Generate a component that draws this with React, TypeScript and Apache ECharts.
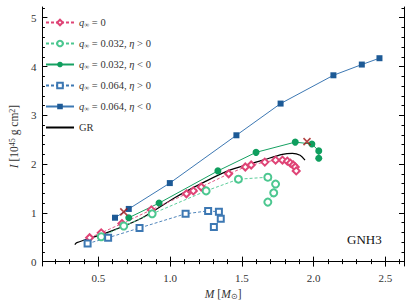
import React, { useEffect, useRef } from "react";
import * as echarts from "echarts";

// q_inf = 0
const q0M = [0.439, 0.52, 0.664, 0.869, 1.114, 1.162, 1.217, 1.408, 1.524, 1.565, 1.66, 1.735, 1.783, 1.817, 1.838, 1.858, 1.872, 1.879];
const q0I = [0.49, 0.59, 0.78, 1.06, 1.39, 1.45, 1.53, 1.8, 1.94, 1.98, 2.04, 2.08, 2.08, 2.06, 2.02, 1.98, 1.94, 1.86];
// q_inf = 0.032, eta > 0
const q32pM = [0.52, 0.677, 0.875, 1.251, 1.476, 1.681, 1.735, 1.722, 1.681];
const q32pI = [0.51, 0.73, 0.98, 1.45, 1.69, 1.73, 1.59, 1.41, 1.22];
// q_inf = 0.032, eta < 0
const q32nM = [0.712, 0.923, 1.333, 1.599, 1.872, 1.988, 2.036, 2.036];
const q32nI = [0.9, 1.2, 1.86, 2.24, 2.45, 2.41, 2.27, 2.12];
// q_inf = 0.064, eta > 0
const q64pM = [0.425, 0.568, 0.787, 1.108, 1.265, 1.34, 1.353, 1.305];
const q64pI = [0.37, 0.49, 0.69, 0.98, 1.04, 1.02, 0.88, 0.71];
// q_inf = 0.064, eta < 0
const q64nM = [0.616, 0.712, 0.998, 1.462, 1.77, 2.138, 2.336, 2.459];
const q64nI = [0.9, 1.08, 1.61, 2.59, 3.24, 3.82, 4.04, 4.17];
// GR
const grM = [0.336, 0.35, 0.575, 0.807, 1.032, 1.237, 1.42, 1.647, 1.783, 1.852, 1.906, 1.94];
const grI = [0.35, 0.39, 0.61, 0.9, 1.31, 1.63, 1.88, 2.08, 2.2, 2.22, 2.18, 2.08];
// maximum-mass markers
const crossM = [0.677, 1.954];
const crossI = [1.02, 2.46];

const xMajor = [0.5, 1.0, 1.5, 2.0, 2.5];
const xMinor = [0.2, 0.3, 0.4, 0.6, 0.7, 0.8, 0.9, 1.1, 1.2, 1.3, 1.4, 1.6, 1.7, 1.8, 1.9, 2.1, 2.2, 2.3, 2.4, 2.6];
const yMajor = [0, 1, 2, 3, 4, 5];
const yMinor = [0.2, 0.4, 0.6, 0.8, 1.2, 1.4, 1.6, 1.8, 2.2, 2.4, 2.6, 2.8, 3.2, 3.4, 3.6, 3.8, 4.2, 4.4, 4.6, 4.8, 5.2];

const names = ["q0", "q32p", "q32n", "q64p", "q64n", "GR"];
const legendLabels: Record<string, string> = {
  q0: "{q|q}{s|∞}{t| = 0}",
  q32p: "{q|q}{s|∞}{t| = 0.032, }{q|η}{t| > 0}",
  q32n: "{q|q}{s|∞}{t| = 0.032, }{q|η}{t| < 0}",
  q64p: "{q|q}{s|∞}{t| = 0.064, }{q|η}{t| > 0}",
  q64n: "{q|q}{s|∞}{t| = 0.064, }{q|η}{t| < 0}",
  GR: "{t|GR}",
};

const zip = (a: number[], b: number[]) => a.map((v, i) => [v, b[i]]);

const SERIF = "Liberation Serif, Times New Roman, serif";
const TXT = "#333";
const X_MIN = 0.11, X_MAX = 2.63, Y_MIN = -0.09, Y_MAX = 5.22;

export default function App() {
  const ref = useRef<HTMLDivElement>(null);
  useEffect(() => {
    const chart = echarts.init(ref.current!, null, { renderer: "svg" });
    const axisLine = { show: true, lineStyle: { color: "#000", width: 1 } };
    const mkX = (pos: "bottom" | "top", major: boolean, labels: boolean, name?: boolean) => ({
      type: "value",
      position: pos,
      min: X_MIN,
      max: X_MAX,
      axisLine: major ? axisLine : { show: false },
      splitLine: { show: false },
      axisTick: { show: true, inside: true, length: major ? 5 : 2.5, customValues: major ? xMajor : xMinor, lineStyle: { color: "#000", width: 1 } },
      axisLabel: labels
        ? { show: true, customValues: xMajor, formatter: (v: number) => v.toFixed(1), fontFamily: SERIF, fontSize: 11, color: TXT, margin: 6 }
        : { show: false },
      ...(name
        ? {
            name: "{i|M} [{i|M}{s|⊙}]",
            nameLocation: "middle",
            nameGap: 22,
            nameTextStyle: {
              fontFamily: SERIF, fontSize: 11.5, color: TXT,
              rich: {
                i: { fontFamily: SERIF, fontStyle: "italic", fontSize: 11.5, color: TXT },
                s: { fontFamily: SERIF, fontSize: 8, color: TXT, verticalAlign: "bottom", padding: [4, 0, 0, 0] },
              },
            },
          }
        : {}),
    });
    const mkY = (pos: "left" | "right", major: boolean, labels: boolean, name?: boolean) => ({
      type: "value",
      position: pos,
      min: Y_MIN,
      max: Y_MAX,
      axisLine: major ? axisLine : { show: false },
      splitLine: { show: false },
      axisTick: { show: true, inside: true, length: major ? 5 : 2.5, customValues: major ? yMajor : yMinor, lineStyle: { color: "#000", width: 1 } },
      axisLabel: labels
        ? { show: true, customValues: yMajor, formatter: (v: number) => String(Math.round(v)), fontFamily: SERIF, fontSize: 11, color: TXT, margin: 6 }
        : { show: false },
      ...(name
        ? {
            name: "{i|I} [10{p|45} g cm{p|2}]",
            nameLocation: "middle",
            nameGap: 18,
            nameRotate: 90,
            nameTextStyle: {
              fontFamily: SERIF, fontSize: 11.5, color: TXT,
              rich: {
                i: { fontFamily: SERIF, fontStyle: "italic", fontSize: 11.5, color: TXT },
                p: { fontFamily: SERIF, fontSize: 8, color: TXT, verticalAlign: "top", padding: [0, 0, 4, 0] },
              },
            },
          }
        : {}),
    });

    const dash = [3, 2];
    const option: any = {
      animation: false,
      backgroundColor: "#fff",
      textStyle: { fontFamily: SERIF },
      grid: { left: 35, right: 11, top: 7, bottom: 42, containLabel: false },
      xAxis: [mkX("bottom", true, true, true), mkX("bottom", false, false), mkX("top", true, false), mkX("top", false, false)],
      yAxis: [mkY("left", true, true, true), mkY("left", false, false), mkY("right", true, false), mkY("right", false, false)],
      legend: {
        data: names.map((n) => (n === "GR" ? { name: n, itemStyle: { opacity: 0 } } : { name: n })),
        orient: "vertical",
        left: 45,
        top: 17,
        itemWidth: 28,
        itemHeight: 7,
        itemGap: 10,
        padding: 0,
        formatter: (n: string) => legendLabels[n],
        textStyle: {
          fontFamily: SERIF, fontSize: 10, color: TXT,
          rich: {
            q: { fontFamily: SERIF, fontStyle: "italic", fontSize: 10.5, color: TXT },
            s: { fontFamily: SERIF, fontSize: 7, color: TXT, verticalAlign: "bottom", padding: [4, 0, 0, 0] },
            t: { fontFamily: SERIF, fontSize: 10.5, color: TXT },
          },
        },
      },
      graphic: [
        { type: "text", left: 347, top: 233, style: { text: "GNH3", font: `13px Liberation Serif`, fill: "#111" } },
      ],
      series: [
        {
          name: "q0", type: "line", data: zip(q0M, q0I), symbol: "emptyDiamond", symbolSize: 7,
          lineStyle: { color: "#df4476", width: 0.9, type: dash }, itemStyle: { color: "#df4476", borderWidth: 0.8 },
        },
        {
          name: "q32p", type: "line", data: zip(q32pM, q32pI), symbol: "emptyCircle", symbolSize: 7,
          lineStyle: { color: "#4cc790", width: 0.9, type: dash }, itemStyle: { color: "#4cc790", borderWidth: 0.8 },
        },
        {
          name: "q32n", type: "line", data: zip(q32nM, q32nI), symbol: "circle", symbolSize: 7,
          lineStyle: { color: "#16a162", width: 1 }, itemStyle: { color: "#0f9e5e" },
        },
        {
          name: "q64p", type: "line", data: zip(q64pM, q64pI), symbol: "emptyRect", symbolSize: 6,
          lineStyle: { color: "#3d78b3", width: 0.9, type: dash }, itemStyle: { color: "#3d78b3", borderWidth: 0.8 },
        },
        {
          name: "q64n", type: "line", data: zip(q64nM, q64nI), symbol: "rect", symbolSize: 6,
          lineStyle: { color: "#3d78b3", width: 1 }, itemStyle: { color: "#1d5a96" },
        },
        {
          name: "GR", type: "line", data: zip(grM, grI), symbol: "none", smooth: 0.3,
          lineStyle: { color: "#000", width: 1.2 }, itemStyle: { color: "#000" }, z: 1,
        },
        {
          name: "max", type: "scatter", data: zip(crossM, crossI), symbol: "path://M0,0L10,10M10,0L0,10", symbolSize: 7,
          itemStyle: { color: "transparent", borderColor: "#a01515", borderWidth: 1.6 }, z: 5,
        },
      ],
    };
    chart.setOption(option);
    return () => chart.dispose();
  }, []);
  return <div ref={ref} style={{ position: "absolute", left: 0, top: 0, width: 415, height: 308 }} />;
}
